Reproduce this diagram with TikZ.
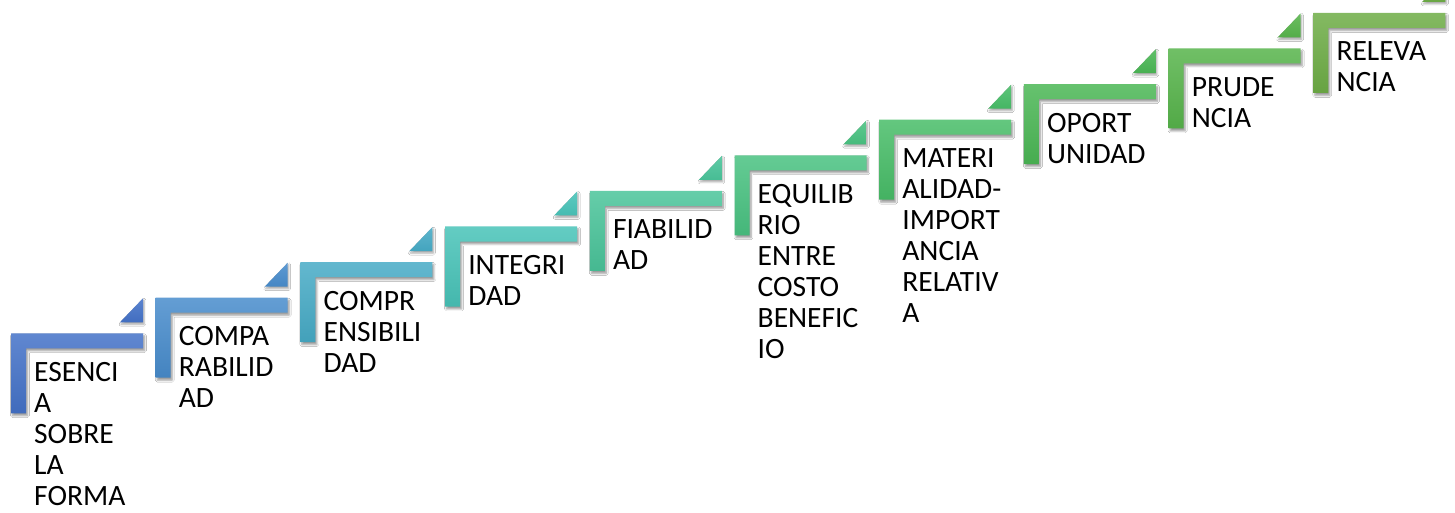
\documentclass[tikz,border=0pt]{standalone}
\usepackage{fontspec}
\setmainfont{Carlito}
\usetikzlibrary{shadows.blur}

% step colours, blue through teal to green
\definecolor{stA}{HTML}{4472C8}
\definecolor{stB}{HTML}{488CCC}
\definecolor{stC}{HTML}{47ABC6}
\definecolor{stD}{HTML}{48C3B8}
\definecolor{stE}{HTML}{4AC49A}
\definecolor{stF}{HTML}{49C281}
\definecolor{stG}{HTML}{48BD68}
\definecolor{stH}{HTML}{4BB755}
\definecolor{stI}{HTML}{57B44B}
\definecolor{stJ}{HTML}{6EAD46}

\begin{document}
\begin{tikzpicture}[x=1pt,y=1pt,
  stepbar/.style={draw=none, top color=#1!85!white, bottom color=#1!94!black,
    blur shadow={shadow xshift=1.5pt, shadow yshift=-2.5pt,
                 shadow blur steps=6, shadow opacity=40}},
  steptip/.style={draw=none, top color=#1!88!white, bottom color=#1!96!black,
    blur shadow={shadow xshift=1pt, shadow yshift=-2pt,
                 shadow blur steps=5, shadow opacity=35}},
  steplabel/.style={anchor=base west, inner sep=0pt, text=black,
    font=\fontsize{29.5}{31}\selectfont}]

\useasboundingbox (0,0) rectangle (1455,512);
\fill[white] (0,0) rectangle (1455,512);

\foreach \i/\col/\txt in {
  0/stA/{ESENCI\\A\\SOBRE\\LA\\FORMA},
  1/stB/{COMPA\\RABILID\\AD},
  2/stC/{COMPR\\ENSIBILI\\DAD},
  3/stD/{INTEGRI\\DAD},
  4/stE/{FIABILID\\AD},
  5/stF/{EQUILIB\\RIO\\ENTRE\\COSTO\\BENEFIC\\IO},
  6/stG/{MATERI\\ALIDAD-\\IMPORT\\ANCIA\\RELATIV\\A},
  7/stH/{OPORT\\UNIDAD},
  8/stI/{PRUDE\\NCIA},
  9/stJ/{RELEVA\\NCIA}} {
  \pgfmathsetmacro{\L}{11+144.7*\i}
  \pgfmathsetmacro{\Y}{178.7+35.6*\i}
  % corner bracket of the step
  \path[stepbar=\col] (\L,\Y) -- ++(132,0) -- ++(0,-15) -- ++(-117,0)
      -- ++(0,-65) -- ++(-15,0) -- cycle;
  % small triangle above the end of the tread
  \path[steptip=\col] (\L+109,\Y+11) -- (\L+132,\Y+11) -- (\L+132,\Y+35) -- cycle;
  % label
  \node[steplabel] (lbl\i) at (\L+23,\Y-48)
    {\parbox[t]{125pt}{\raggedright\txt}};
}
\end{tikzpicture}
\end{document}
